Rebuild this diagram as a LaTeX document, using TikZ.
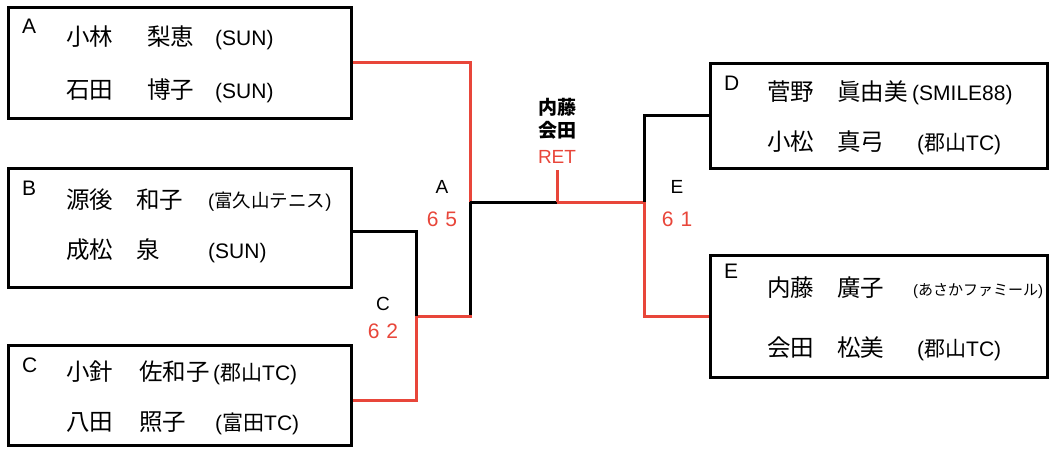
\documentclass[tikz,border=0pt]{standalone}
\usepackage{fontspec}
\setmainfont{Liberation Sans}
\newfontfamily\jp{Noto Sans CJK JP}
\newcommand{\J}[1]{{\jp #1}}
\definecolor{winred}{HTML}{E8463A}
\tikzset{
  box/.style={draw=black, line width=3pt, inner sep=0pt, rectangle},
  blk/.style={draw=black, line width=3pt},
  rd/.style={draw=winred, line width=3pt},
  txt/.style={inner sep=0pt, anchor=base west},
  nm/.style={txt, font=\jp\fontsize{23.5}{27}\selectfont},
  club/.style={txt, font=\fontsize{21}{25}\selectfont},
  smallclub/.style={txt, font=\fontsize{18.5}{22}\selectfont},
  tinyclub/.style={txt, font=\fontsize{15}{18}\selectfont},
  letter/.style={txt, font=\fontsize{21}{25}\selectfont},
  lbl/.style={inner sep=0pt, anchor=base, font=\fontsize{19}{23}\selectfont},
  score/.style={inner sep=0pt, anchor=base, text=winred, font=\fontsize{21}{25}\selectfont},
}
\begin{document}
\begin{tikzpicture}[x=1pt,y=-1pt]
\useasboundingbox (0,0) rectangle (1054,448);
% boxes
\node[box, minimum width=343pt, minimum height=111pt] (A) at (179.5,62.5) {};
\node[box, minimum width=343pt, minimum height=119pt] (B) at (179.5,227.5) {};
\node[box, minimum width=343pt, minimum height=100pt] (C) at (179.5,395) {};
\node[box, minimum width=337pt, minimum height=105pt] (D) at (878.5,115.5) {};
\node[box, minimum width=337pt, minimum height=122pt] (E) at (878.5,316) {};
% box A
\node[letter] (Aa) at (22,33) {A};
\node[nm] (A1s) at (66,45) {小林};
\node[nm] (A1g) at (147,45) {梨恵};
\node[club] (A1c) at (215,45) {(SUN)};
\node[nm] (A2s) at (66,98) {石田};
\node[nm] (A2g) at (147,98) {博子};
\node[club] (A2c) at (215,98) {(SUN)};
% box B
\node[letter] (Bb) at (22,195) {B};
\node[nm] (B1s) at (66,208) {源後};
\node[nm] (B1g) at (136,208) {和子};
\node[smallclub] (B1c) at (208,207) {(\J{富久山テニス})};
\node[nm] (B2s) at (66,258) {成松};
\node[nm] (B2g) at (136,258) {泉};
\node[club] (B2c) at (208,258) {(SUN)};
% box C
\node[letter] (Cc) at (22,372) {C};
\node[nm] (C1s) at (66,380) {小針};
\node[nm] (C1g) at (139,380) {佐和子};
\node[club] (C1c) at (213,380) {(\J{郡山}TC)};
\node[nm] (C2s) at (66,430) {八田};
\node[nm] (C2g) at (139,430) {照子};
\node[club] (C2c) at (215,430) {(\J{富田}TC)};
% box D
\node[letter] (Dd) at (724,90) {D};
\node[nm] (D1s) at (767,100) {菅野};
\node[nm] (D1g) at (837,100) {眞由美};
\node[club] (D1c) at (912,100) {(SMILE88)};
\node[nm] (D2s) at (767,150) {小松};
\node[nm] (D2g) at (837,150) {真弓};
\node[club] (D2c) at (917,150) {(\J{郡山}TC)};
% box E
\node[letter] (Ee) at (724,278) {E};
\node[nm] (E1s) at (767,296) {内藤};
\node[nm] (E1g) at (837,296) {廣子};
\node[tinyclub] (E1c) at (913,295) {(\J{あさかファミール})};
\node[nm] (E2s) at (767,356) {会田};
\node[nm] (E2g) at (837,356) {松美};
\node[club] (E2c) at (917,356) {(\J{郡山}TC)};
% junction coordinates
\coordinate (jAC) at (470,202);
\coordinate (mid) at (557,202);
\coordinate (jDE) at (644,202);
\coordinate (jBC) at (416,316);
\coordinate (jCA) at (470,316);
\coordinate (retb) at (557,170);
% connectors
\draw[rd] (A.east) -| (jAC);
\draw[blk] (jAC) -- (mid);
\draw[rd] (mid) -- (jDE);
\draw[rd] (mid) -- (retb);
\draw[blk] (jAC) -- (jCA);
\draw[rd, line cap=rect] (jBC) -- (jCA);
\draw[blk] ([yshift=-3.5pt]B.east) -| (jBC);
\draw[rd] ([yshift=-5pt]C.east) -| (jBC);
\draw[blk] (D.west) -| (jDE);
\draw[rd] (E.west) -| (jDE);
% labels
\node[lbl] (lA) at (442,193) {A};
\node[score] (sA) at (442,226) {6\hspace{7pt}5};
\node[lbl] (lC) at (383,310) {C};
\node[score] (sC) at (383,338) {6\hspace{7pt}2};
\node[lbl] (lE) at (677,193) {E};
\node[score] (sE) at (677,226) {6\hspace{7pt}1};
\node[inner sep=0pt, anchor=base, font=\jp\bfseries\fontsize{19}{23}\selectfont] (w1) at (557,114) {内藤};
\node[inner sep=0pt, anchor=base, font=\jp\bfseries\fontsize{19}{23}\selectfont] (w2) at (557,137) {会田};
\node[score, font=\fontsize{19}{23}\selectfont] (ret) at (557,163) {RET};
\end{tikzpicture}
\end{document}
